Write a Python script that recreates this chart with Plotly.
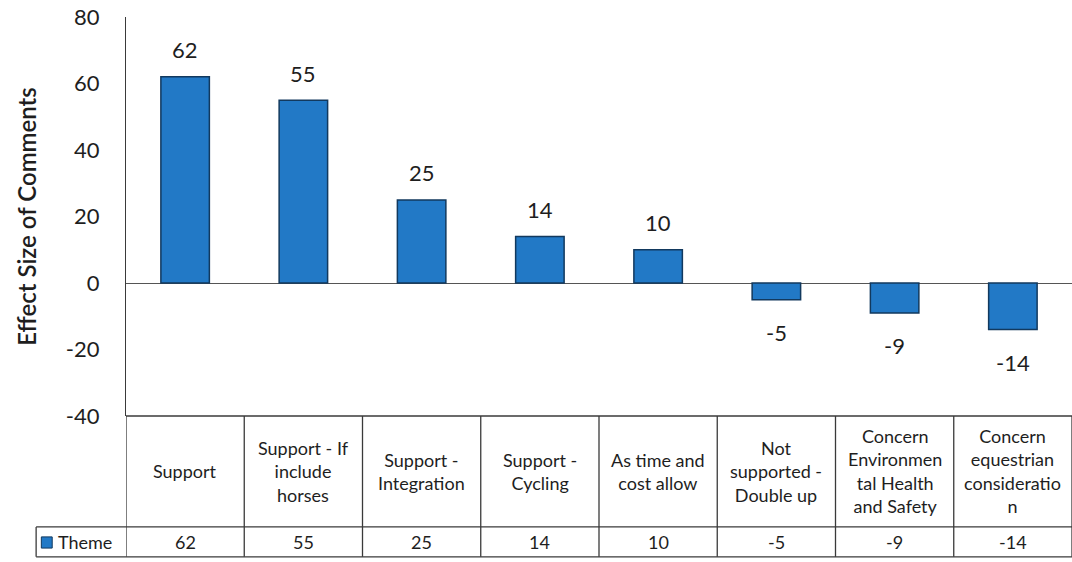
import plotly.graph_objects as go

# Theme effect sizes, one per comment category
categories = [
    "Support",
    "Support - If include horses",
    "Support - Integration",
    "Support - Cycling",
    "As time and cost allow",
    "Not supported - Double up",
    "Concern Environmental Health and Safety",
    "Concern equestrian consideration",
]
header_labels = [
    "Support",
    "Support - If<br>include<br>horses",
    "Support -<br>Integration",
    "Support -<br>Cycling",
    "As time and<br>cost allow",
    "Not<br>supported -<br>Double up",
    "Concern<br>Environmen<br>tal Health<br>and Safety",
    "Concern<br>equestrian<br>consideratio<br>n",
]
values = [62, 55, 25, 14, 10, -5, -9, -14]
series_name = "Theme"
y_ticks = [80, 60, 40, 20, 0, -20, -40]

FONT = "Lato"
TEXT = "#1e1e1e"
GRID = "#3a3a3a"
BAR = "#2279c6"
BAR_EDGE = "#12395e"

x_idx = list(range(len(categories)))

fig = go.Figure()
fig.add_trace(go.Bar(
    x=x_idx, y=values, name=series_name, width=0.41,
    marker=dict(color=BAR, line=dict(color=BAR_EDGE, width=1.5)),
    showlegend=False, hoverinfo="y",
))

# value labels just beyond each bar end
for i, v in zip(x_idx, values):
    fig.add_annotation(
        x=i, y=v, text=str(v), showarrow=False,
        yshift=27 if v >= 0 else -33,
        font=dict(family=FONT, size=22, color=TEXT),
    )

# data table under the plot area
row_top, row_mid, row_bot = 0.0, -0.278, -0.353
legend_left = -0.095
shapes = []
shapes.append(dict(type="line", xref="paper", yref="paper", x0=0, x1=1, y0=row_top, y1=row_top,
                   line=dict(color=GRID, width=1.3)))
for yy in (row_mid, row_bot):
    shapes.append(dict(type="line", xref="paper", yref="paper", x0=legend_left, x1=1, y0=yy, y1=yy,
                       line=dict(color=GRID, width=1.3)))
for k in range(len(categories) + 1):
    shapes.append(dict(type="line", xref="x", yref="paper", x0=k - 0.5, x1=k - 0.5,
                       y0=row_top, y1=row_bot, line=dict(color=GRID, width=1.3)))
shapes.append(dict(type="line", xref="paper", yref="paper", x0=legend_left, x1=legend_left,
                   y0=row_mid, y1=row_bot, line=dict(color=GRID, width=1.3)))
# legend key square
shapes.append(dict(type="rect", xref="paper", yref="paper", x0=-0.0895, x1=-0.0780,
                   y0=-0.303, y1=-0.331, fillcolor=BAR, line=dict(color=BAR_EDGE, width=1)))

cell_font = dict(family=FONT, size=18, color=TEXT)
for i, lab, v in zip(x_idx, header_labels, values):
    fig.add_annotation(x=i, y=(row_top + row_mid) / 2, xref="x", yref="paper", text=lab,
                       xanchor="center", yanchor="middle", showarrow=False, font=cell_font)
    fig.add_annotation(x=i, y=(row_mid + row_bot) / 2, xref="x", yref="paper", text=str(v),
                       xanchor="center", yanchor="middle", showarrow=False, font=cell_font)
fig.add_annotation(x=-0.074, y=(row_mid + row_bot) / 2, xref="paper", yref="paper", text=series_name,
                   xanchor="left", yanchor="middle", showarrow=False, font=cell_font)

fig.update_layout(
    width=1072, height=562,
    margin=dict(l=126, r=0, t=17, b=146),
    paper_bgcolor="white", plot_bgcolor="white",
    shapes=shapes,
)
fig.update_xaxes(range=[-0.5, len(categories) - 0.5], showticklabels=False, showgrid=False,
                 zeroline=False, showline=False, ticks="")
fig.update_yaxes(
    range=[-40, 80], tickvals=y_ticks, ticktext=[str(t) for t in y_ticks],
    showgrid=False, zeroline=True, zerolinecolor="#555555", zerolinewidth=1.3,
    showline=True, linecolor=GRID, linewidth=1.3, ticks="", ticklabelstandoff=21,
    tickfont=dict(family=FONT, size=22, color=TEXT),
    title=dict(text="Effect Size of Comments", standoff=22,
               font=dict(family=FONT, size=24, color=TEXT, weight=600)),
)

fig.write_html("out.html")
